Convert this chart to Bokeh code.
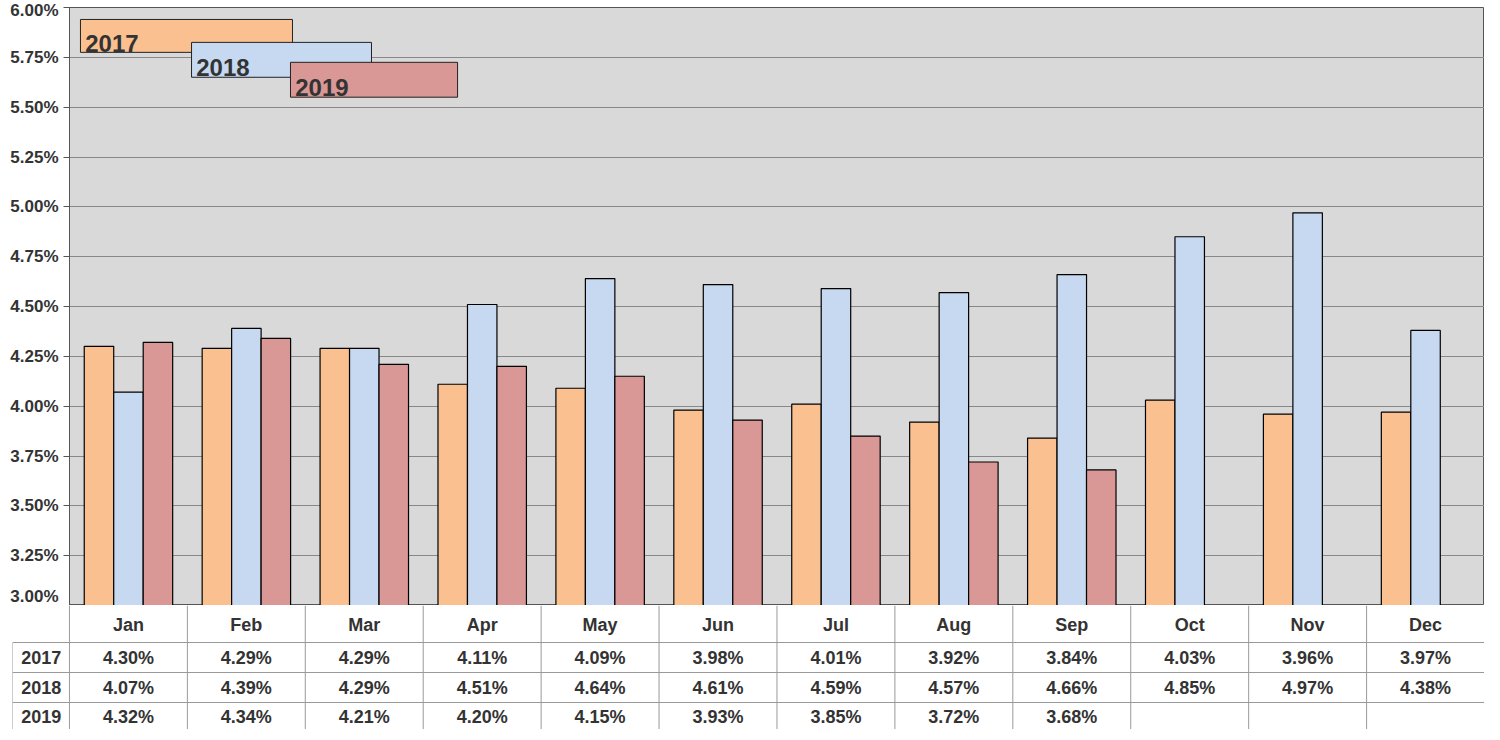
from bokeh.embed import file_html
from bokeh.resources import INLINE
from bokeh.models import Range1d, PrintfTickFormatter, FixedTicker, ColumnDataSource
from bokeh.plotting import figure
from bokeh.core.properties import value

months = ["Jan", "Feb", "Mar", "Apr", "May", "Jun", "Jul", "Aug", "Sep", "Oct", "Nov", "Dec"]
years = ["2017", "2018", "2019"]
rate_2017 = [4.30, 4.29, 4.29, 4.11, 4.09, 3.98, 4.01, 3.92, 3.84, 4.03, 3.96, 3.97]
rate_2018 = [4.07, 4.39, 4.29, 4.51, 4.64, 4.61, 4.59, 4.57, 4.66, 4.85, 4.97, 4.38]
rate_2019 = [4.32, 4.34, 4.21, 4.20, 4.15, 3.93, 3.85, 3.72, 3.68]
y_ticks = [3.00, 3.25, 3.50, 3.75, 4.00, 4.25, 4.50, 4.75, 5.00, 5.25, 5.50, 5.75, 6.00]

colors = ["#fac090", "#c6d9f1", "#d99795"]
series = [rate_2017, rate_2018, rate_2019]
FONT = "Liberation Sans"
TXT = "#333333"

p = figure(frame_width=1415, frame_height=598, x_range=Range1d(-0.5, 11.5), y_range=Range1d(3.0, 6.0),
           output_backend="svg", toolbar_location=None,
           min_border_left=69, min_border_right=0, min_border_top=7, min_border_bottom=0)
p.background_fill_color = "#d9d9d9"
p.border_fill_color = "white"
p.outline_line_color = "#555555"
p.xaxis.visible = False
p.xgrid.visible = False
p.ygrid.grid_line_color = "#888888"
p.yaxis.ticker = FixedTicker(ticks=y_ticks)
p.yaxis.formatter = PrintfTickFormatter(format="%.2f%%")
p.yaxis.major_label_text_font = FONT
p.yaxis.major_label_text_font_style = "bold"
p.yaxis.major_label_text_font_size = "17px"
p.yaxis.major_label_text_color = TXT
p.yaxis.axis_line_color = "#555555"
p.yaxis.major_tick_line_color = "#555555"
p.yaxis.major_tick_out = 6
p.yaxis.major_tick_in = 0
p.yaxis.minor_tick_line_color = None

offsets = [-0.25, 0.0, 0.25]
for vals, off, col in zip(series, offsets, colors):
    xs = [i + off for i in range(len(vals))]
    src = ColumnDataSource(dict(x=xs, top=vals))
    p.vbar(x="x", top="top", bottom=3.0, width=0.25, source=src,
           fill_color=col, line_color="black", line_width=1.2)

# legend boxes
leg_left = [-0.407, 0.535, 1.374]
leg_right = [1.391, 2.061, 2.791]
leg_top = [5.94, 5.825, 5.725]
leg_bottom = [5.775, 5.65, 5.55]
p.quad(left=leg_left, right=leg_right, top=leg_top, bottom=leg_bottom,
       fill_color=colors, line_color="#222222", line_width=1)
p.text(x=[l + 0.04 for l in leg_left], y=[b + 0.004 for b in leg_bottom], text=years,
       text_font=value(FONT), text_font_style="bold", text_font_size="24px",
       text_color=TXT, text_baseline="bottom", text_align="left")

# table
t = figure(frame_width=1472, frame_height=124, x_range=Range1d(-0.983, 11.5), y_range=Range1d(124, 0),
           output_backend="svg", toolbar_location=None,
           min_border_left=12, min_border_right=0, min_border_top=0, min_border_bottom=0)
t.axis.visible = False
t.grid.visible = False
t.outline_line_color = None
t.background_fill_color = "white"

edges = [i - 0.5 for i in range(13)]
t.segment(x0=edges, y0=[0] * 13, x1=edges, y1=[124] * 13, line_color="#999999", line_width=1)
t.segment(x0=[-0.983], y0=[37], x1=[-0.983], y1=[124], line_color="#999999", line_width=1)
row_y = [37, 67, 97]
t.segment(x0=[-0.983] * 3, y0=row_y, x1=[11.5] * 3, y1=row_y, line_color="#999999", line_width=1)

t.text(x=list(range(12)), y=[19] * 12, text=months, text_font=value(FONT),
       text_font_style="bold", text_font_size="18px", text_color=TXT,
       text_align="center", text_baseline="middle")
t.text(x=[-0.74] * 3, y=[52, 82, 111], text=years, text_font=value(FONT),
       text_font_style="bold", text_font_size="18px", text_color=TXT,
       text_align="center", text_baseline="middle")
for vals, yc in zip(series, [52, 82, 111]):
    t.text(x=list(range(len(vals))), y=[yc] * len(vals), text=[f"{v:.2f}%" for v in vals],
           text_font=value(FONT), text_font_style="bold", text_font_size="18px",
           text_color=TXT, text_align="center", text_baseline="middle")

open("out.html", "w").write(file_html([p, t], INLINE))
